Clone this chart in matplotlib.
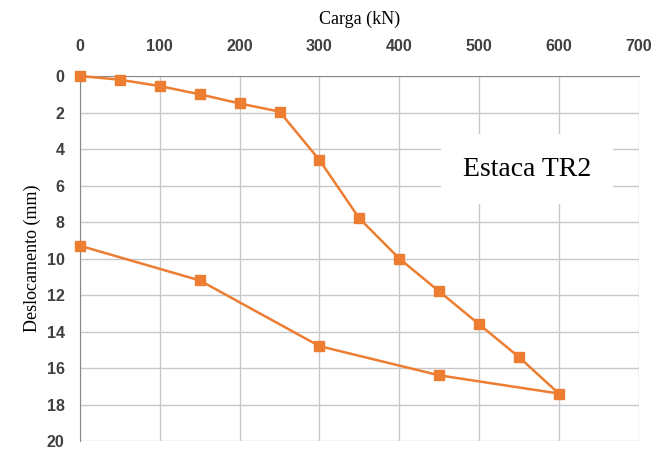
import matplotlib.pyplot as plt

# load test of pile TR2: loading then unloading
carga = [0, 50, 100, 150, 200, 250, 300, 350, 400, 450, 500, 550, 600,
         450, 300, 150, 0]
desloc = [0, 0.2, 0.55, 1.0, 1.5, 1.95, 4.6, 7.8, 10.0, 11.8, 13.6, 15.4, 17.4,
          16.4, 14.8, 11.2, 9.3]

xticks = [0, 100, 200, 300, 400, 500, 600, 700]
yticks = [0, 2, 4, 6, 8, 10, 12, 14, 16, 18, 20]

fig = plt.figure(figsize=(6.58, 4.5), dpi=100)
ax = fig.add_axes([0.1216, 0.02, 0.849, 0.811])

ax.plot(carga, desloc, color='#ED7D31', lw=1.8, marker='s', ms=7,
        clip_on=False, zorder=3)

ax.set_xlim(0, 700)
ax.set_ylim(20, 0)
ax.set_xticks(xticks)
ax.set_yticks(yticks)
ax.xaxis.tick_top()
ax.xaxis.set_label_position('top')
ax.grid(True, color='#c8c8c8', lw=1)
ax.set_axisbelow(True)
ax.tick_params(length=0, labelsize=11.5, labelcolor='#404040')
ax.tick_params(axis='x', pad=16)
ax.tick_params(axis='y', pad=11)
for lab in ax.get_xticklabels() + ax.get_yticklabels():
    lab.set_fontweight('bold')
    lab.set_family('Liberation Sans')

for s in ['right', 'bottom']:
    ax.spines[s].set_visible(False)
ax.spines['top'].set_color('#888888')
ax.spines['left'].set_color('#888888')

ax.set_xlabel('Carga (kN)', family='Liberation Serif', fontsize=13, labelpad=11)
ax.set_ylabel('Deslocamento (mm)', family='Liberation Serif', fontsize=13, labelpad=4)

ax.text(0.80, 0.745, 'Estaca TR2', transform=ax.transAxes, family='Liberation Serif',
        fontsize=20, va='center', ha='center', zorder=2,
        bbox=dict(facecolor='white', edgecolor='none', pad=16))

fig.savefig('out.png', dpi=100)
